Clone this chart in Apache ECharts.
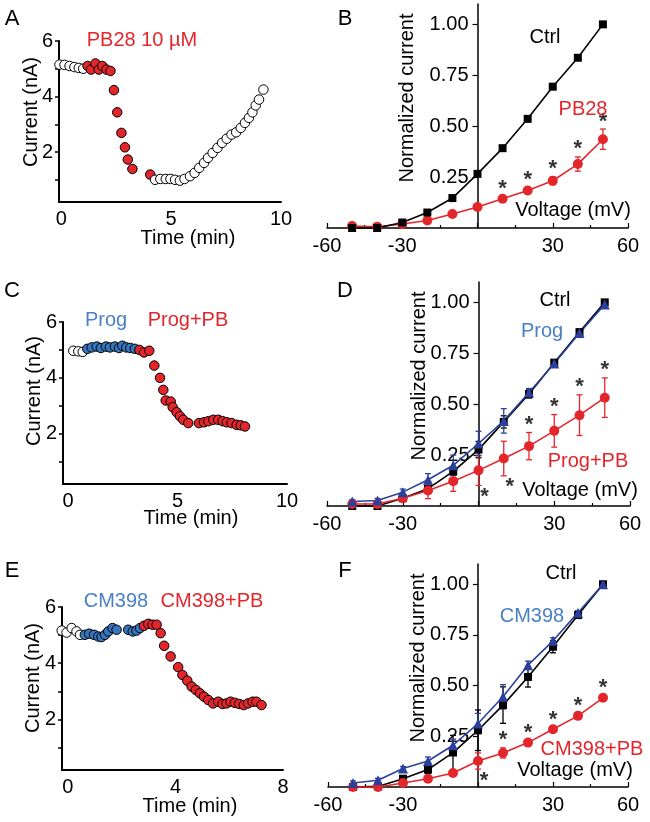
<!DOCTYPE html>
<html>
<head>
<meta charset="utf-8">
<script src="https://cdn.jsdelivr.net/npm/echarts@6/dist/echarts.min.js"></script>
<style>html,body{margin:0;padding:0;background:#fff}#container{width:650px;height:822px}</style>
</head>
<body>
<div id="container"></div>
<script>
var dom = document.getElementById("container");
var myChart = echarts.init(dom, null, { renderer: "canvas" });

// ---- time courses (left column) ----
var aCtrlT = [-0.08, 0.15, 0.38, 0.6, 0.8, 1.0];
var aCtrlI = [5.15, 5.14, 5.1, 5.06, 5.03, 5.0];
var aDrugT = [1.2, 1.36, 1.56, 1.71, 1.87, 2.06, 2.24, 2.4, 2.55, 2.74, 2.9, 3.03, 3.24, 4.05];
var aDrugI = [5.1, 4.97, 5.19, 4.97, 5.1, 4.97, 4.92, 4.23, 3.43, 2.69, 2.17, 1.73, 1.39, 1.19];
var aWashT = [4.27, 4.51, 4.76, 4.97, 5.18, 5.4, 5.61, 5.86, 6.07, 6.28, 6.5, 6.68, 6.89, 7.11, 7.32, 7.53, 7.75, 7.96, 8.17, 8.36, 8.54, 8.7, 8.85, 9.0, 9.2];
var aWashI = [1.0, 1.03, 1.03, 1.03, 1.0, 0.97, 1.03, 1.13, 1.25, 1.43, 1.61, 1.79, 1.97, 2.15, 2.33, 2.48, 2.63, 2.71, 2.87, 3.05, 3.23, 3.43, 3.68, 3.89, 4.25];

var cCtrlT = [0.24, 0.47, 0.67];
var cCtrlI = [4.97, 4.95, 4.93];
var cProgT = [0.88, 1.08, 1.31, 1.5, 1.73, 1.91, 2.14, 2.33, 2.48, 2.66, 2.84, 3.05];
var cProgI = [5.04, 5.09, 5.12, 5.07, 5.12, 5.09, 5.12, 5.07, 5.15, 5.09, 5.07, 5.04];
var cPbT = [3.26, 3.47, 3.71, 3.94, 4.2, 4.35, 4.46, 4.69, 4.78, 4.96, 5.11, 5.26, 5.49, 5.98, 6.21, 6.41, 6.63, 6.86, 7.06, 7.25, 7.47, 7.7, 7.89, 8.08];
var cPbI = [5.0, 4.91, 4.97, 4.44, 4.0, 3.57, 3.19, 3.15, 2.95, 2.77, 2.63, 2.5, 2.38, 2.38, 2.41, 2.45, 2.5, 2.5, 2.45, 2.41, 2.38, 2.32, 2.3, 2.26];

var eCtrlT = [-0.23, -0.05, 0.14, 0.32, 0.45];
var eCtrlI = [5.16, 5.09, 5.25, 5.13, 5.01];
var eCmT = [0.63, 0.79, 0.97, 1.13, 1.25, 1.38, 1.5, 1.66, 1.81, 2.24, 2.41, 2.55, 2.68];
var eCmI = [5.01, 5.05, 5.01, 4.95, 4.93, 5.01, 5.13, 5.25, 5.19, 5.19, 5.13, 5.16, 5.25];
var eCmPbT = [2.83, 2.99, 3.15, 3.3, 3.45, 3.58, 3.82, 4.1, 4.26, 4.44, 4.6, 4.76, 4.91, 5.06, 5.22, 5.4, 5.59, 5.75, 5.9, 6.05, 6.21, 6.37, 6.54, 6.7, 6.87, 7.01, 7.2];
var eCmPbI = [5.33, 5.4, 5.37, 5.37, 5.07, 4.62, 4.24, 3.86, 3.58, 3.38, 3.17, 3.05, 2.93, 2.81, 2.69, 2.57, 2.63, 2.55, 2.57, 2.63, 2.59, 2.55, 2.51, 2.57, 2.63, 2.63, 2.51];

var timeTicksAC = [0, 5, 10];
var timeTicksE = [0, 4, 8];
var currentTicks = [1, 2, 3, 4, 5, 6];
var currentLabels = [2, 4, 6];

// ---- I-V curves (right column) ----
var volts = [-50, -40, -30, -20, -10, 0, 10, 20, 30, 40, 50];
var voltLabels = [-60, -30, 30, 60];
var normTicks = [0.25, 0.5, 0.75, 1.0];

var ctrlB = [0, 0, 0.027, 0.076, 0.147, 0.266, 0.392, 0.536, 0.694, 0.836, 1.0];
var ctrlBErr = [0.005, 0.005, 0.008, 0.008, 0.008, 0.01, 0.01, 0.01, 0.008, 0.008, 0];
var pbB = [0.01, 0.006, 0.02, 0.037, 0.069, 0.103, 0.144, 0.184, 0.232, 0.314, 0.436];
var pbBErr = [0.01, 0.006, 0.008, 0.008, 0.008, 0.01, 0.012, 0.015, 0.02, 0.035, 0.05];
var starsUpB = [10, 20, 30, 40, 50];
var starsDownB = [];

var ctrlD = [0, 0, 0.038, 0.085, 0.17, 0.277, 0.413, 0.55, 0.704, 0.854, 1.0];
var ctrlDErr = [0.005, 0.005, 0.01, 0.015, 0.02, 0.04, 0.03, 0.02, 0.015, 0.01, 0.005];
var progD = [0.022, 0.027, 0.068, 0.129, 0.2, 0.307, 0.418, 0.557, 0.7, 0.85, 0.99];
var progDErr = [0.01, 0.01, 0.015, 0.03, 0.05, 0.06, 0.06, 0.02, 0.015, 0.01, 0.01];
var progPbD = [0.01, 0.01, 0.038, 0.076, 0.122, 0.175, 0.233, 0.294, 0.369, 0.446, 0.532];
var progPbDErr = [0.01, 0.01, 0.015, 0.04, 0.05, 0.074, 0.085, 0.067, 0.08, 0.1, 0.097];
var starsUpD = [20, 30, 40, 50];
var starsDownD = [0, 10];

var ctrlF = [0, 0.003, 0.041, 0.086, 0.17, 0.28, 0.404, 0.543, 0.692, 0.848, 1.0];
var ctrlFErr = [0.005, 0.005, 0.01, 0.02, 0.085, 0.1, 0.09, 0.05, 0.03, 0.01, 0.005];
var cmF = [0.02, 0.033, 0.091, 0.128, 0.206, 0.313, 0.445, 0.601, 0.721, 0.86, 1.0];
var cmFErr = [0.01, 0.01, 0.01, 0.02, 0.03, 0.05, 0.06, 0.02, 0.015, 0.01, 0.01];
var cmPbF = [0, 0, 0.02, 0.041, 0.069, 0.128, 0.168, 0.219, 0.285, 0.351, 0.44];
var cmPbFErr = [0.005, 0.005, 0.01, 0.01, 0.01, 0.04, 0.025, 0.01, 0.01, 0.01, 0.01];
var starsUpF = [10, 20, 30, 40, 50];
var starsDownF = [0];

var FONT = "Liberation Sans, Arial, sans-serif";
var RED = "#e3262b";
var BLUE_TXT = "#4a80c4";
var BLUE_DOT = "#3575be";
var NAVY = "#2b409c";

function pairs(xs, ys) {
    return xs.map(function (x, i) { return [x, ys[i]]; });
}

var grids = [
    { left: 59, top: 41, width: 222, height: 161 },   // A
    { left: 63, top: 322, width: 224, height: 162 },  // C
    { left: 62, top: 607, width: 221, height: 163 },  // E
    { left: 327, top: 4, width: 301, height: 224 },   // B
    { left: 327, top: 282, width: 303, height: 224 }, // D
    { left: 328, top: 564, width: 300, height: 223 }, // F
];

var xAxes = [];
var yAxes = [];
var series = [];

function timeAxes(gi, xmin, xmax, labels) {
    xAxes.push({
        gridIndex: gi, type: "value", min: xmin, max: xmax,
        axisLine: { onZero: false, lineStyle: { color: "#000", width: 2 } },
        axisTick: { show: false },
        axisLabel: { customValues: labels, color: "#000", fontSize: 20, fontFamily: FONT, margin: 7 },
        splitLine: { show: false },
    });
    yAxes.push({
        gridIndex: gi, type: "value", min: 0.2, max: 6,
        axisLine: { onZero: false, lineStyle: { color: "#000", width: 2 } },
        axisTick: { customValues: currentTicks, length: 4, lineStyle: { color: "#000", width: 1.5 } },
        axisLabel: { customValues: currentLabels, color: "#000", fontSize: 20, fontFamily: FONT, margin: 6 },
        splitLine: { show: false },
    });
}

function dots(gi, ts, is, color) {
    series.push({
        type: "scatter", xAxisIndex: gi, yAxisIndex: gi,
        data: pairs(ts, is), symbol: "circle", symbolSize: 9.5, clip: false,
        itemStyle: { color: color, borderColor: "#000", borderWidth: 1, opacity: 1 },
    });
}

function ivAxes(gi) {
    var g = grids[gi];
    xAxes.push({
        gridIndex: gi, type: "value", min: -60, max: 60, interval: 30,
        axisLine: { onZero: true, lineStyle: { color: "#000", width: 1.5 } },
        axisTick: { inside: true, length: 5, lineStyle: { color: "#000", width: 1.2 } },
        minorTick: { show: true, splitNumber: 2, length: 3, lineStyle: { color: "#000", width: 1.2 } },
        axisLabel: { customValues: voltLabels, color: "#000", fontSize: 20, fontFamily: FONT, margin: 8 },
        splitLine: { show: false },
    });
    // y axis sits on V = 0, i.e. the middle of the -60..60 range
    yAxes.push({
        gridIndex: gi, type: "value", min: 0, max: 1.1, offset: -g.width / 2,
        axisLine: { onZero: false, lineStyle: { color: "#000", width: 1.5 } },
        axisTick: { customValues: normTicks, length: 5, lineStyle: { color: "#000", width: 1.2 } },
        axisLabel: {
            customValues: normTicks, color: "#000", fontSize: 20, fontFamily: FONT, margin: 9,
            formatter: function (v) { return v.toFixed(2); },
        },
        splitLine: { show: false },
    });
}

function ivCurve(gi, mean, err, color, symbol, size) {
    series.push({
        type: "custom", xAxisIndex: gi, yAxisIndex: gi, clip: false,
        data: volts.map(function (v, i) { return [v, mean[i] - err[i], mean[i] + err[i]]; }),
        renderItem: function (params, api) {
            var lo = api.coord([api.value(0), api.value(1)]);
            var hi = api.coord([api.value(0), api.value(2)]);
            var st = { stroke: color, lineWidth: 1.3 };
            return {
                type: "group",
                children: [
                    { type: "line", shape: { x1: lo[0], y1: lo[1], x2: hi[0], y2: hi[1] }, style: st },
                    { type: "line", shape: { x1: lo[0] - 3, y1: lo[1], x2: lo[0] + 3, y2: lo[1] }, style: st },
                    { type: "line", shape: { x1: hi[0] - 3, y1: hi[1], x2: hi[0] + 3, y2: hi[1] }, style: st },
                ],
            };
        },
    });
    series.push({
        type: "line", xAxisIndex: gi, yAxisIndex: gi, clip: false,
        data: pairs(volts, mean), symbol: symbol, symbolSize: size, showSymbol: true,
        itemStyle: { color: color, borderColor: color, borderWidth: 0 },
        lineStyle: { color: color, width: 1.6 },
    });
}

function stars(gi, up, down, mean, err) {
    var upData = up.map(function (v) { var i = volts.indexOf(v); return [v, mean[i] + err[i]]; });
    var downData = down.map(function (v) { var i = volts.indexOf(v); return [v, mean[i] - err[i]]; });
    var lab = { show: true, formatter: "*", color: "#000", fontSize: 22, fontWeight: "bold", fontFamily: FONT };
    series.push({
        type: "scatter", xAxisIndex: gi, yAxisIndex: gi, data: upData, symbolSize: 1, clip: false,
        itemStyle: { color: "rgba(0,0,0,0)" }, label: Object.assign({ position: "top", distance: -4 }, lab),
    });
    series.push({
        type: "scatter", xAxisIndex: gi, yAxisIndex: gi, data: downData, symbolSize: 1, clip: false,
        itemStyle: { color: "rgba(0,0,0,0)" }, label: Object.assign({ position: "bottom", distance: 0, offset: [6, 0] }, lab),
    });
}

// A
timeAxes(0, -0.1, 10, timeTicksAC);
dots(0, aCtrlT, aCtrlI, "#fff");
dots(0, aDrugT, aDrugI, RED);
dots(0, aWashT, aWashI, "#fff");
// C
timeAxes(1, -0.23, 10, timeTicksAC);
dots(1, cCtrlT, cCtrlI, "#fff");
dots(1, cProgT, cProgI, BLUE_DOT);
dots(1, cPbT, cPbI, RED);
// E
timeAxes(2, -0.22, 8, timeTicksE);
dots(2, eCtrlT, eCtrlI, "#fff");
dots(2, eCmT, eCmI, BLUE_DOT);
dots(2, eCmPbT, eCmPbI, RED);
// B
ivAxes(3);
ivCurve(3, pbB, pbBErr, RED, "circle", 10);
ivCurve(3, ctrlB, ctrlBErr, "#000", "rect", 8);
stars(3, starsUpB, starsDownB, pbB, pbBErr);
// D
ivAxes(4);
ivCurve(4, ctrlD, ctrlDErr, "#000", "rect", 8);
ivCurve(4, progPbD, progPbDErr, RED, "circle", 10);
ivCurve(4, progD, progDErr, NAVY, "triangle", 10);
stars(4, starsUpD, starsDownD, progPbD, progPbDErr);
// F
ivAxes(5);
ivCurve(5, ctrlF, ctrlFErr, "#000", "rect", 8);
ivCurve(5, cmPbF, cmPbFErr, RED, "circle", 10);
ivCurve(5, cmF, cmFErr, NAVY, "triangle", 10);
stars(5, starsUpF, starsDownF, cmPbF, cmPbFErr);

function txt(x, y, text, color, size, rot) {
    return {
        type: "text", x: x, y: y, rotation: rot || 0, z: 10,
        style: {
            text: text, x: 0, y: 0, fill: color, align: "center", verticalAlign: "middle",
            font: size + "px " + FONT,
        },
    };
}

var V = Math.PI / 2;
var graphics = [
    txt(12, 19, "A", "#000", 22), txt(12, 291, "C", "#000", 22), txt(12, 571, "E", "#000", 22),
    txt(345, 19, "B", "#000", 22), txt(345, 291, "D", "#000", 22), txt(345, 571, "F", "#000", 22),
    txt(31, 112, "Current (nA)", "#000", 20, V),
    txt(34, 391, "Current (nA)", "#000", 20, V),
    txt(33, 678, "Current (nA)", "#000", 20, V),
    txt(188, 238, "Time (min)", "#000", 20),
    txt(191, 518, "Time (min)", "#000", 20),
    txt(190, 806, "Time (min)", "#000", 20),
    txt(142, 40, "PB28 10 µM", RED, 20),
    txt(106, 320, "Prog", BLUE_TXT, 20), txt(188, 320, "Prog+PB", RED, 20),
    txt(116, 601, "CM398", BLUE_TXT, 20), txt(212, 601, "CM398+PB", RED, 20),
    txt(407, 98, "Normalized current", "#000", 20, V),
    txt(419, 376, "Normalized current", "#000", 20, V),
    txt(418, 658, "Normalized current", "#000", 20, V),
    txt(573, 210, "Voltage (mV)", "#000", 20),
    txt(580, 490, "Voltage (mV)", "#000", 20),
    txt(575, 770, "Voltage (mV)", "#000", 20),
    txt(545, 37, "Ctrl", "#000", 20), txt(583, 109, "PB28", RED, 20),
    txt(555, 300, "Ctrl", "#000", 20), txt(542, 331, "Prog", BLUE_TXT, 20), txt(588, 461, "Prog+PB", RED, 20),
    txt(561, 573, "Ctrl", "#000", 20), txt(532, 616, "CM398", BLUE_TXT, 20), txt(592, 749, "CM398+PB", RED, 20),
];

var option = {
    animation: false,
    backgroundColor: "#fff",
    textStyle: { fontFamily: FONT },
    grid: grids,
    xAxis: xAxes,
    yAxis: yAxes,
    series: series,
    graphic: graphics,
};

if (option && typeof option === "object") {
    myChart.setOption(option);
}
</script>
</body>
</html>
